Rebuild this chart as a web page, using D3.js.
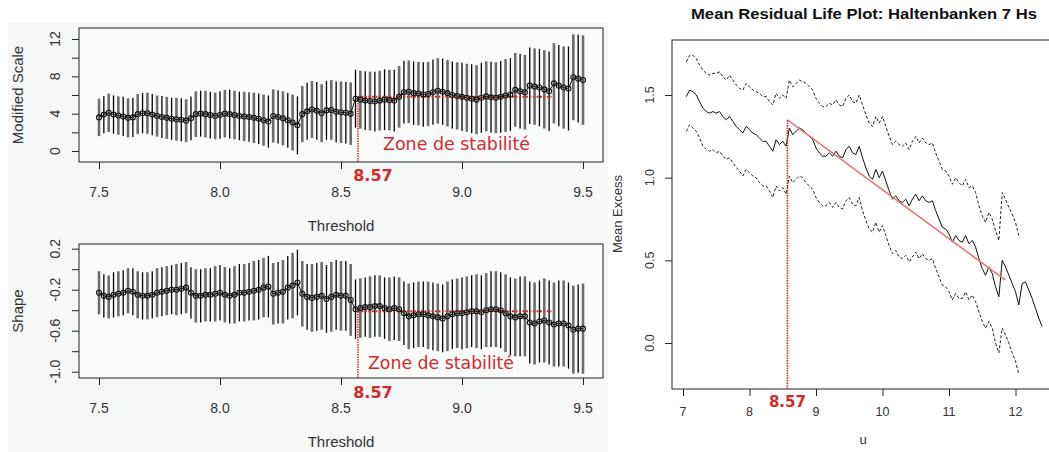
<!DOCTYPE html>
<html>
<head>
<meta charset="utf-8">
<script src="https://cdn.jsdelivr.net/npm/d3@7"></script>
<style>
  body { margin: 0; background: #fff; }
  text { font-family: "Liberation Sans", Arial, sans-serif; fill: #333; }
</style>
</head>
<body>
<svg id="chart" width="1049" height="452"></svg>
<script>
// Thresholds used for the two GPD fit-range panels (101 steps of 0.02)
const thresholds = d3.range(101).map(i => +(7.5 + i * 0.02).toFixed(2));
const thresholdTicks = [7.5, 8.0, 8.5, 9.0, 9.5];

// Modified scale: estimate and half-width of the 95% interval
const scaleEst = [
  3.6, 3.9, 4.1, 3.9, 3.8, 3.7, 3.55, 3.6, 3.95, 4.05,
  4.05, 3.9, 3.75, 3.65, 3.55, 3.45, 3.4, 3.35, 3.25, 3.5,
  3.95, 4.0, 3.95, 3.85, 3.75, 3.85, 4.0, 3.95, 3.85, 3.75,
  3.7, 3.65, 3.55, 3.45, 3.3, 3.15, 3.75, 3.65, 3.5, 3.3,
  3.05, 2.75, 3.95, 4.25, 4.45, 4.3, 4.05, 4.35, 4.4, 4.2,
  4.15, 4.1, 4.0, 5.6, 5.5, 5.4, 5.35, 5.3, 5.4, 5.5,
  5.45, 5.4, 5.8, 6.3, 6.35, 6.2, 6.15, 6.05, 6.1, 6.3,
  6.45, 6.35, 6.2, 6.0, 5.9, 5.8, 5.7, 5.6, 5.5, 5.7,
  5.85, 5.75, 5.7, 5.8, 5.95, 6.05, 6.55, 6.4, 6.3, 7.0,
  6.9, 6.8, 6.6, 6.4, 7.25, 7.0, 6.8, 6.7, 7.9, 7.75,
  7.6
];
const scaleHalf = [
  2.0, 2.0, 2.05, 2.05, 2.05, 2.1, 2.1, 2.1, 2.15, 2.15,
  2.2, 2.2, 2.2, 2.25, 2.25, 2.25, 2.3, 2.3, 2.3, 2.35,
  2.45, 2.45, 2.5, 2.5, 2.5, 2.55, 2.55, 2.6, 2.6, 2.6,
  2.65, 2.65, 2.7, 2.7, 2.75, 2.8, 2.85, 2.85, 2.9, 2.95,
  3.0, 3.1, 3.0, 3.05, 3.05, 3.1, 3.1, 3.15, 3.2, 3.25,
  3.3, 3.3, 3.35, 3.1, 3.1, 3.15, 3.15, 3.2, 3.2, 3.25,
  3.25, 3.3, 3.3, 3.35, 3.35, 3.4, 3.4, 3.45, 3.45, 3.5,
  3.5, 3.55, 3.55, 3.6, 3.6, 3.65, 3.65, 3.7, 3.7, 3.75,
  3.75, 3.8, 3.8, 3.85, 3.9, 3.9, 3.95, 4.0, 4.0, 4.1,
  4.1, 4.15, 4.2, 4.25, 4.3, 4.35, 4.4, 4.5, 4.6, 4.7,
  4.8
];

// Shape: estimate and half-width of the 95% interval
const shapeEst = [
  -0.23, -0.26, -0.27, -0.25, -0.24, -0.23, -0.21, -0.22, -0.25, -0.26,
  -0.26, -0.25, -0.23, -0.22, -0.21, -0.2, -0.2, -0.19, -0.18, -0.23,
  -0.26, -0.26, -0.25, -0.25, -0.24, -0.23, -0.25, -0.26, -0.25, -0.23,
  -0.23, -0.22, -0.21, -0.2, -0.18, -0.17, -0.24, -0.23, -0.22, -0.18,
  -0.16, -0.13, -0.24, -0.27, -0.28, -0.27, -0.26, -0.29, -0.27, -0.25,
  -0.26, -0.26, -0.3, -0.39, -0.38, -0.37, -0.37, -0.36, -0.36, -0.38,
  -0.39, -0.38, -0.39, -0.43, -0.46, -0.45, -0.44, -0.44, -0.45, -0.46,
  -0.47, -0.48, -0.46, -0.44, -0.43, -0.43, -0.42, -0.41, -0.41, -0.42,
  -0.40, -0.39, -0.39, -0.40, -0.43, -0.46, -0.47, -0.46, -0.46, -0.52,
  -0.53, -0.51, -0.5, -0.52, -0.54, -0.53, -0.53, -0.55, -0.59, -0.58,
  -0.58
];
const shapeHalf = [
  0.21, 0.21, 0.21, 0.22, 0.22, 0.22, 0.22, 0.23, 0.23, 0.23,
  0.23, 0.23, 0.24, 0.24, 0.24, 0.24, 0.25, 0.25, 0.25, 0.25,
  0.26, 0.26, 0.26, 0.26, 0.27, 0.27, 0.27, 0.27, 0.28, 0.28,
  0.28, 0.28, 0.29, 0.29, 0.29, 0.30, 0.30, 0.30, 0.31, 0.31,
  0.32, 0.32, 0.32, 0.32, 0.33, 0.33, 0.33, 0.33, 0.34, 0.34,
  0.34, 0.34, 0.35, 0.29, 0.29, 0.29, 0.30, 0.30, 0.30, 0.30,
  0.31, 0.31, 0.31, 0.31, 0.32, 0.32, 0.32, 0.32, 0.33, 0.33,
  0.33, 0.33, 0.34, 0.34, 0.34, 0.35, 0.35, 0.35, 0.36, 0.36,
  0.36, 0.37, 0.37, 0.37, 0.38, 0.38, 0.38, 0.39, 0.39, 0.40,
  0.40, 0.40, 0.41, 0.41, 0.41, 0.42, 0.42, 0.42, 0.43, 0.43,
  0.44
];

// Mean residual life: thresholds u, mean excess and half-width of the 95% band
const mrlU = d3.range(108).map(i => +(7.05 + i * 0.05).toFixed(2));
const mrlMean = [
  1.49, 1.53, 1.52, 1.50, 1.46, 1.42, 1.40, 1.39, 1.40, 1.39,
  1.40, 1.37, 1.35, 1.37, 1.34, 1.31, 1.29, 1.27, 1.31, 1.29,
  1.27, 1.26, 1.24, 1.22, 1.22, 1.19, 1.16, 1.23, 1.20, 1.22,
  1.19, 1.30, 1.26, 1.28, 1.30, 1.29, 1.27, 1.25, 1.23, 1.18,
  1.15, 1.13, 1.13, 1.15, 1.13, 1.16, 1.13, 1.12, 1.17, 1.19,
  1.15, 1.14, 1.19, 1.12, 1.06, 1.01, 0.99, 1.05, 1.00, 1.04,
  0.98, 0.92, 0.87, 0.89, 0.86, 0.85, 0.87, 0.83, 0.87, 0.90,
  0.86, 0.89, 0.86, 0.85, 0.86, 0.80, 0.75, 0.70, 0.69, 0.66,
  0.61, 0.65, 0.62, 0.61, 0.65, 0.60, 0.62, 0.58, 0.51, 0.45,
  0.41, 0.46, 0.42, 0.34, 0.28, 0.50, 0.46, 0.41, 0.36, 0.31,
  0.23, 0.36, 0.37, 0.32, 0.27, 0.21, 0.15, 0.10
];
const mrlHalf = [
  0.21, 0.21, 0.22, 0.22, 0.22, 0.23, 0.23, 0.23, 0.23, 0.24,
  0.24, 0.24, 0.24, 0.25, 0.25, 0.25, 0.25, 0.26, 0.26, 0.26,
  0.26, 0.26, 0.27, 0.27, 0.27, 0.27, 0.28, 0.28, 0.28, 0.28,
  0.29, 0.29, 0.29, 0.29, 0.29, 0.29, 0.30, 0.30, 0.30, 0.30,
  0.30, 0.30, 0.30, 0.30, 0.31, 0.31, 0.31, 0.31, 0.31, 0.31,
  0.31, 0.31, 0.31, 0.32, 0.32, 0.32, 0.32, 0.32, 0.33, 0.33,
  0.33, 0.33, 0.33, 0.33, 0.34, 0.34, 0.34, 0.34, 0.35, 0.35,
  0.35, 0.35, 0.35, 0.35, 0.35, 0.35, 0.35, 0.35, 0.35, 0.35,
  0.35, 0.35, 0.35, 0.34, 0.34, 0.34, 0.33, 0.33, 0.32, 0.32,
  0.32, 0.33, 0.33, 0.34, 0.34, 0.41, 0.41, 0.41, 0.42, 0.42,
  0.42, null, null, null, null, null, null, null
];

// Chosen threshold and stability levels
const chosenU = 8.57;
const stableEnd = 9.37;
const stableScale = 5.8;
const stableShape = -0.41;
const fitLine = [[8.57, 1.35], [11.85, 0.38]];

const svg = d3.select("#chart");
const red = "#d42a2a";

// light grey backdrop behind the two left panels
svg.append("rect")
  .attr("x", 8).attr("y", 23)
  .attr("width", 600).attr("height", 429)
  .attr("fill", "#f6f7f7");

const xT = d3.scaleLinear().domain([7.5, 9.5]).range([99, 583]);

function drawPanel(p) {
  const y = d3.scaleLinear().domain(p.yDomain).range(p.yRange);
  const g = svg.append("g");

  g.append("rect")
    .attr("x", 79).attr("y", p.boxTop)
    .attr("width", 524).attr("height", p.boxBottom - p.boxTop)
    .attr("fill", "#fafbfb");

  // confidence bars
  g.selectAll(".ci")
    .data(thresholds)
    .join("line")
    .attr("x1", d => xT(d)).attr("x2", d => xT(d))
    .attr("y1", (d, i) => y(p.est[i] - p.half[i]))
    .attr("y2", (d, i) => y(p.est[i] + p.half[i]))
    .attr("stroke", (d, i) => i % 2 ? "#000" : "#6e6e6e")
    .attr("stroke-width", (d, i) => i % 2 ? 1.3 : 2.6);

  // red stability zone
  g.append("line")
    .attr("x1", xT(chosenU)).attr("x2", xT(stableEnd))
    .attr("y1", y(p.level)).attr("y2", y(p.level))
    .attr("stroke", red).attr("stroke-width", 2)
    .attr("stroke-dasharray", "2,1.5");
  g.append("line")
    .attr("x1", xT(chosenU)).attr("x2", xT(chosenU))
    .attr("y1", p.boxBottom).attr("y2", y(p.level))
    .attr("stroke", red).attr("stroke-width", 1.5)
    .attr("stroke-dasharray", "1.5,1");

  // estimates
  g.append("path")
    .datum(thresholds)
    .attr("fill", "none").attr("stroke", "#111").attr("stroke-width", 1)
    .attr("d", d3.line().x(d => xT(d)).y((d, i) => y(p.est[i])));
  g.selectAll(".pt")
    .data(thresholds)
    .join("circle")
    .attr("cx", d => xT(d))
    .attr("cy", (d, i) => y(p.est[i]))
    .attr("r", 2.5)
    .attr("fill", "none").attr("stroke", "#111").attr("stroke-width", 1.1);

  g.append("rect")
    .attr("x", 79).attr("y", p.boxTop)
    .attr("width", 524).attr("height", p.boxBottom - p.boxTop)
    .attr("fill", "none").attr("stroke", "#222");

  // axes
  const ax = g.append("g")
    .attr("transform", `translate(0,${p.boxBottom})`)
    .call(d3.axisBottom(xT).tickValues(thresholdTicks).tickFormat("").tickSize(7).tickSizeOuter(0));
  ax.select(".domain").remove();
  ax.selectAll("line").attr("stroke", "#222");
  g.selectAll(".xl")
    .data(thresholdTicks)
    .join("text")
    .attr("x", d => xT(d)).attr("y", p.boxBottom + 35)
    .attr("text-anchor", "middle")
    .style("font-size", "14px")
    .text(d => d3.format(".1f")(d));

  const ay = g.append("g")
    .attr("transform", "translate(79,0)")
    .call(d3.axisLeft(y).tickValues(p.ticks).tickFormat("").tickSize(7).tickSizeOuter(0));
  ay.select(".domain").remove();
  ay.selectAll("line").attr("stroke", "#222");
  g.selectAll(".yl")
    .data(p.labels)
    .join("text")
    .attr("transform", d => `translate(60,${y(d)}) rotate(-90)`)
    .attr("text-anchor", "middle")
    .style("font-size", "14px")
    .text(d => p.fmt(d));

  g.append("text")
    .attr("transform", `translate(23,${(p.boxTop + p.boxBottom) / 2}) rotate(-90)`)
    .attr("text-anchor", "middle")
    .style("font-size", "15px")
    .text(p.ylabel);
  g.append("text")
    .attr("x", 341).attr("y", p.boxBottom + 69)
    .attr("text-anchor", "middle")
    .style("font-size", "15px")
    .text("Threshold");

  // annotations
  g.append("text")
    .attr("x", p.zoneX).attr("y", p.zoneY)
    .style("font-family", "DejaVu Sans").style("font-size", "17px")
    .style("fill", red)
    .attr("textLength", p.zoneW).attr("lengthAdjust", "spacingAndGlyphs")
    .text("Zone de stabilité");
  g.append("text")
    .attr("x", xT(chosenU) + 15).attr("y", p.boxBottom + p.numDy)
    .attr("text-anchor", "middle")
    .style("font-family", "DejaVu Sans").style("font-weight", "bold").style("font-size", "16px")
    .style("fill", red)
    .text("8.57");
}

drawPanel({
  est: scaleEst, half: scaleHalf, level: stableScale,
  yDomain: [0, 12], yRange: [151, 39], boxTop: 28, boxBottom: 162,
  ticks: [0, 2, 4, 6, 8, 10, 12], labels: [0, 4, 8, 12], fmt: d3.format("d"),
  ylabel: "Modified Scale", zoneX: 383, zoneY: 150, zoneW: 147, numDy: 19
});

drawPanel({
  est: shapeEst, half: shapeHalf, level: stableShape,
  yDomain: [-1.0, 0.2], yRange: [371.7, 248.7], boxTop: 244, boxBottom: 378,
  ticks: [-1.0, -0.8, -0.6, -0.4, -0.2, 0.0, 0.2], labels: [-1.0, -0.6, -0.2, 0.2],
  fmt: d => d3.format(".1f")(d).replace("−", "-"),
  ylabel: "Shape", zoneX: 368, zoneY: 369, zoneW: 146, numDy: 20
});

// ---- Mean residual life plot ----
const xR = d3.scaleLinear().domain([7, 12]).range([683, 1015.5]);
const yR = d3.scaleLinear().domain([0, 1.5]).range([343, 95]);
const gR = svg.append("g");

gR.append("text")
  .attr("x", 864).attr("y", 19)
  .attr("text-anchor", "middle")
  .style("font-weight", "bold").style("font-size", "15.5px").style("fill", "#111")
  .attr("textLength", 346).attr("lengthAdjust", "spacingAndGlyphs")
  .text("Mean Residual Life Plot: Haltenbanken 7 Hs");

gR.append("rect")
  .attr("x", 672).attr("y", 40)
  .attr("width", 385).attr("height", 349)
  .attr("fill", "none").attr("stroke", "#222");

const bandIdx = mrlU.map((d, i) => i).filter(i => mrlHalf[i] !== null);

gR.append("path")
  .datum(bandIdx)
  .attr("fill", "none").attr("stroke", "#222").attr("stroke-width", 1)
  .attr("stroke-dasharray", "3,2")
  .attr("d", d3.line().x(i => xR(mrlU[i])).y(i => yR(mrlMean[i] + mrlHalf[i])));
gR.append("path")
  .datum(bandIdx)
  .attr("fill", "none").attr("stroke", "#222").attr("stroke-width", 1)
  .attr("stroke-dasharray", "3,2")
  .attr("d", d3.line().x(i => xR(mrlU[i])).y(i => yR(mrlMean[i] - mrlHalf[i])));
gR.append("path")
  .datum(mrlU)
  .attr("fill", "none").attr("stroke", "#111").attr("stroke-width", 1)
  .attr("d", d3.line().x(d => xR(d)).y((d, i) => yR(mrlMean[i])));

gR.append("path")
  .datum(fitLine)
  .attr("fill", "none").attr("stroke", "#e87575").attr("stroke-width", 1.6)
  .attr("d", d3.line().x(d => xR(d[0])).y(d => yR(d[1])));
gR.append("line")
  .attr("x1", xR(chosenU)).attr("x2", xR(chosenU))
  .attr("y1", 389).attr("y2", yR(fitLine[0][1]))
  .attr("stroke", red).attr("stroke-width", 1.6)
  .attr("stroke-dasharray", "1.5,1");

const axR = gR.append("g")
  .attr("transform", "translate(0,389)")
  .call(d3.axisBottom(xR).ticks(6).tickFormat("").tickSize(7).tickSizeOuter(0));
axR.select(".domain").remove();
axR.selectAll("line").attr("stroke", "#222");
gR.selectAll(".xr")
  .data(xR.ticks(6))
  .join("text")
  .attr("x", d => xR(d)).attr("y", 416)
  .attr("text-anchor", "middle")
  .style("font-size", "12.5px")
  .text(d => d);

const ayR = gR.append("g")
  .attr("transform", "translate(672,0)")
  .call(d3.axisLeft(yR).tickValues([0, 0.5, 1.0, 1.5]).tickFormat("").tickSize(7).tickSizeOuter(0));
ayR.select(".domain").remove();
ayR.selectAll("line").attr("stroke", "#222");
gR.selectAll(".yr")
  .data([0, 0.5, 1.0, 1.5])
  .join("text")
  .attr("transform", d => `translate(654,${yR(d)}) rotate(-90)`)
  .attr("text-anchor", "middle")
  .style("font-size", "12.5px")
  .text(d => d3.format(".1f")(d));

gR.append("text")
  .attr("transform", "translate(622,214) rotate(-90)")
  .attr("text-anchor", "middle")
  .style("font-size", "13px")
  .text("Mean Excess");
gR.append("text")
  .attr("x", 863).attr("y", 444)
  .attr("text-anchor", "middle")
  .style("font-size", "13px")
  .text("u");
gR.append("text")
  .attr("x", xR(chosenU)).attr("y", 407)
  .attr("text-anchor", "middle")
  .style("font-family", "DejaVu Sans").style("font-weight", "bold").style("font-size", "15px")
  .style("fill", red)
  .text("8.57");
</script>
</body>
</html>
